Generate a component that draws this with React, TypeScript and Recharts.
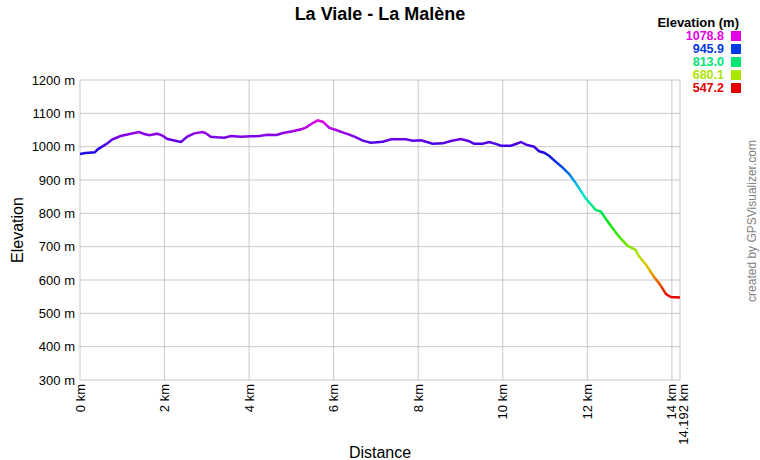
import { LineChart, Line, XAxis, YAxis, CartesianGrid } from 'recharts'

// elevation profile (km, m)
const distanceKm = [
  0, 0.13, 0.35, 0.42, 0.65, 0.77, 0.96, 1.2, 1.4, 1.52, 1.64, 1.82, 1.95, 2.07, 2.31, 2.39,
  2.54, 2.7, 2.9, 2.98, 3.09, 3.25, 3.41, 3.57, 3.8, 4.04, 4.24, 4.43, 4.65, 4.8, 5.03, 5.23,
  5.35, 5.47, 5.62, 5.74, 5.9, 6.06, 6.21, 6.37, 6.53, 6.69, 6.88, 7.16, 7.36, 7.71, 7.87,
  8.07, 8.34, 8.58, 8.77, 9.01, 9.19, 9.32, 9.52, 9.68, 9.87, 9.96, 10.19, 10.31, 10.43,
  10.55, 10.74, 10.86, 10.98, 11.1, 11.25, 11.41, 11.57, 11.73, 11.96, 12.2, 12.32, 12.51,
  12.75, 12.95, 13.14, 13.22, 13.41, 13.59, 13.7, 13.86, 13.98, 14.192,
]
const elevationM = [
  978, 981, 983, 992, 1010, 1022, 1032, 1039, 1044, 1038, 1034, 1039, 1033, 1023, 1016, 1014,
  1030, 1040, 1044, 1040, 1030, 1028, 1027, 1032, 1030, 1031, 1032, 1036, 1035, 1041, 1046, 1052,
  1058, 1068, 1078.8, 1075, 1056, 1050, 1043, 1036, 1028, 1018, 1012, 1015, 1022, 1022, 1018,
  1019, 1009, 1010, 1017, 1023, 1017, 1009, 1009, 1014, 1007, 1003, 1003, 1008, 1014,
  1006, 1000, 986, 982, 972, 955, 938, 918, 890, 845, 810, 805, 770,
  730, 703, 690, 672, 642, 607, 590, 558, 549, 547.2,
]

const xTicks = [0, 2, 4, 6, 8, 10, 12, 14, 14.192]
const yTicks = [300, 400, 500, 600, 700, 800, 900, 1000, 1100, 1200]
const legendValues = ['1078.8', '945.9', '813.0', '680.1', '547.2']
const legendColors = ['#e600e6', '#0039e6', '#00e673', '#ace600', '#e60000']

const data = distanceKm.map((d, i) => ({ d, e: elevationM[i] }))

const FONT = '"Liberation Sans", Arial, sans-serif'

// hue runs from magenta at the top of the profile down to red at the bottom
const gradientStops = Array.from({ length: 13 }, (_, i) => ({
  offset: i / 12,
  color: `hsl(${300 * (1 - i / 12)}, 100%, 45%)`,
}))

function XTick(props: any) {
  const { y, payload } = props
  // the end-of-track label sits a little right of the 14 km one, like the original
  const x = payload.value === xTicks[xTicks.length - 1] ? props.x + 3 : props.x
  return (
    <text
      x={x}
      y={y}
      transform={`rotate(-90, ${x}, ${y})`}
      textAnchor="end"
      dominantBaseline="central"
      fontSize={13}
      fontFamily={FONT}
      fill="#000"
    >
      {`${payload.value} km`}
    </text>
  )
}

function YTick(props: any) {
  const { x, y, payload } = props
  return (
    <text x={x} y={y} textAnchor="end" dominantBaseline="central" fontSize={13} fontFamily={FONT} fill="#000">
      {`${payload.value} m`}
    </text>
  )
}

export default function App() {
  return (
    <div style={{ position: 'absolute', left: 0, top: 0, width: 760, height: 460, background: '#fff' }}>
      <LineChart width={760} height={460} data={data} margin={{ top: 80, right: 80, bottom: 0, left: 0 }}>
        <defs>
          <linearGradient id="elevGrad" x1="0" y1="0" x2="0" y2="1">
            {gradientStops.map((s) => (
              <stop key={s.offset} offset={s.offset} stopColor={s.color} />
            ))}
          </linearGradient>
        </defs>
        <CartesianGrid stroke="#c8c8c8" />
        <XAxis
          type="number"
          dataKey="d"
          domain={[0, 14.192]}
          ticks={xTicks}
          interval={0}
          height={80}
          tickLine={false}
          axisLine={false}
          tickSize={0}
          tickMargin={4}
          tick={<XTick />}
        />
        <YAxis
          type="number"
          domain={[300, 1200]}
          ticks={yTicks}
          interval={0}
          width={80}
          tickLine={false}
          axisLine={false}
          tickSize={0}
          tickMargin={5}
          tick={<YTick />}
        />
        <Line
          type="linear"
          dataKey="e"
          stroke="url(#elevGrad)"
          strokeWidth={2.5}
          dot={false}
          isAnimationActive={false}
        />
      </LineChart>
      <svg
        width={760}
        height={460}
        style={{ position: 'absolute', left: 0, top: 0, pointerEvents: 'none' }}
        fontFamily={FONT}
      >
        <text x={380} y={19.5} textAnchor="middle" fontSize={18} fontWeight="bold" fill="#000">
          La Viale - La Malène
        </text>
        <text x={739} y={26.5} textAnchor="end" fontSize={13} fontWeight="bold" fill="#000">
          Elevation (m)
        </text>
        {legendValues.map((v, i) => (
          <g key={v}>
            <text
              x={724}
              y={36 + i * 13}
              textAnchor="end"
              dominantBaseline="central"
              fontSize={12.5}
              fontWeight="bold"
              fill={legendColors[i]}
            >
              {v}
            </text>
            <rect x={731} y={31 + i * 13} width={10} height={10} fill={legendColors[i]} />
          </g>
        ))}
        <text
          x={17}
          y={230}
          transform="rotate(-90, 17, 230)"
          textAnchor="middle"
          dominantBaseline="central"
          fontSize={16}
          fill="#000"
        >
          Elevation
        </text>
        <text x={380} y={452} textAnchor="middle" dominantBaseline="central" fontSize={16} fill="#000">
          Distance
        </text>
        <text
          x={752}
          y={221}
          transform="rotate(-90, 752, 221)"
          textAnchor="middle"
          dominantBaseline="central"
          fontSize={12}
          fill="#808080"
        >
          created by GPSVisualizer.com
        </text>
      </svg>
    </div>
  )
}
